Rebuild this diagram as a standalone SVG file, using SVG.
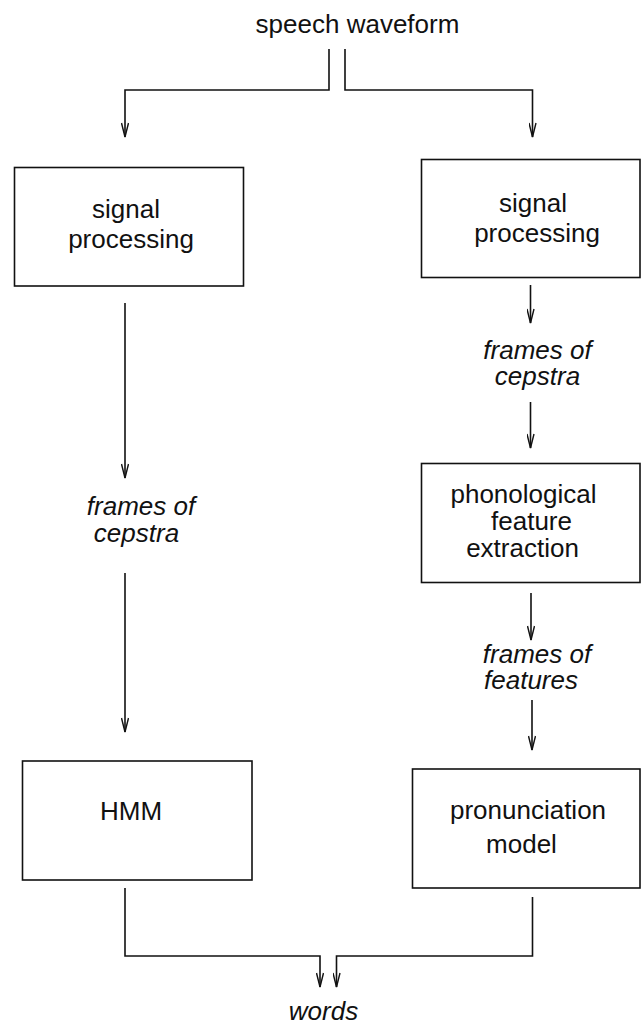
<svg xmlns="http://www.w3.org/2000/svg" width="643" height="1026" viewBox="0 0 643 1026">
<style>
text{font-family:"Liberation Sans",Arial,Helvetica,sans-serif;font-size:26px;fill:#111;text-anchor:middle}
.i{font-style:italic}
.box{fill:#fff;stroke:#111;stroke-width:1.6}
.c{fill:none;stroke:#111;stroke-width:1.6}
</style>
<defs>
<marker id="a" markerUnits="userSpaceOnUse" markerWidth="16" markerHeight="8" refX="15" refY="4" orient="auto" viewBox="0 0 16 8">
<path d="M1,0.5 L15,4 L1,7.5" fill="none" stroke="#111" stroke-width="1.4"/>
</marker>
</defs>
<rect width="643" height="1026" fill="#fff"/>
<g id="connectors">
<polyline class="c" points="329,49 329,90 125,90 125,137" marker-end="url(#a)"/>
<polyline class="c" points="345,49 345,90 532.5,90 532.5,137" marker-end="url(#a)"/>
<line class="c" x1="125" y1="303" x2="125" y2="478" marker-end="url(#a)"/>
<line class="c" x1="125" y1="573" x2="125" y2="732" marker-end="url(#a)"/>
<line class="c" x1="530.5" y1="285" x2="530.5" y2="323" marker-end="url(#a)"/>
<line class="c" x1="530.5" y1="402" x2="530.5" y2="448" marker-end="url(#a)"/>
<line class="c" x1="531" y1="593" x2="531" y2="640" marker-end="url(#a)"/>
<line class="c" x1="532" y1="700" x2="532" y2="750" marker-end="url(#a)"/>
<polyline class="c" points="125,888 125,956 320,956 320,987" marker-end="url(#a)"/>
<polyline class="c" points="532.5,897 532.5,956 336.5,956 336.5,987" marker-end="url(#a)"/>
</g>
<g id="speech-waveform"><text x="357.5" y="33">speech waveform</text></g>
<g id="signal-processing-left">
<rect class="box" x="14.5" y="167.5" width="229" height="118.5"/>
<text x="126" y="218">signal</text>
<text x="131" y="248">processing</text>
</g>
<g id="signal-processing-right">
<rect class="box" x="421.5" y="159.5" width="218.5" height="118"/>
<text x="533" y="212">signal</text>
<text x="537" y="242">processing</text>
</g>
<g id="frames-cepstra-left">
<text class="i" x="141" y="515">frames of</text>
<text class="i" x="136.5" y="542">cepstra</text>
</g>
<g id="frames-cepstra-right">
<text class="i" x="537.5" y="359">frames of</text>
<text class="i" x="537.5" y="385">cepstra</text>
</g>
<g id="phonological-feature-extraction">
<rect class="box" x="421.5" y="463.5" width="218.5" height="119"/>
<text x="523.5" y="503">phonological</text>
<text x="531.5" y="530">feature</text>
<text x="522.5" y="557">extraction</text>
</g>
<g id="frames-features">
<text class="i" x="537" y="663">frames of</text>
<text class="i" x="531" y="689">features</text>
</g>
<g id="hmm">
<rect class="box" x="22.5" y="761" width="229.5" height="119"/>
<text x="131" y="820">HMM</text>
</g>
<g id="pronunciation-model">
<rect class="box" x="412.5" y="769" width="227.5" height="119"/>
<text x="528" y="819">pronunciation</text>
<text x="521.5" y="853">model</text>
</g>
<g id="words"><text class="i" x="323.5" y="1020">words</text></g>
</svg>
